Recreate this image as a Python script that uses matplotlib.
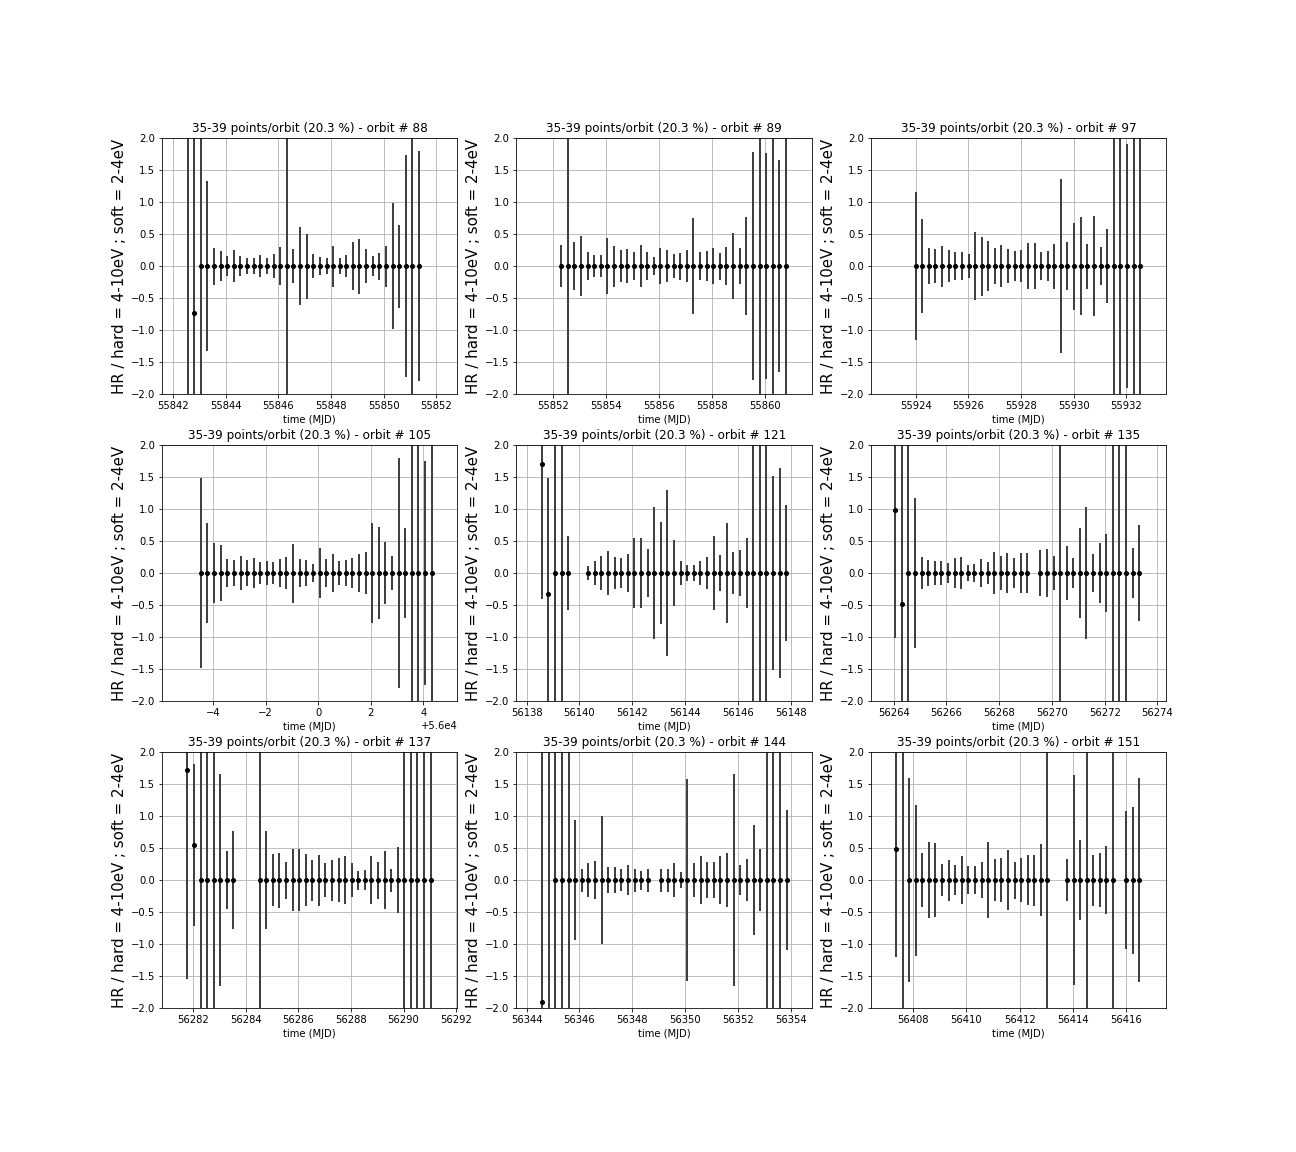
import numpy as np
import matplotlib
matplotlib.use('Agg')
import matplotlib.pyplot as plt


ORBITS = [88, 89, 97, 105, 121, 135, 137, 144, 151]

# time (MJD) of each HR point, per orbit
t_88 = [55842.55, 55842.80, 55843.05, 55843.30, 55843.55, 55843.81, 55844.06, 55844.31, 55844.56,
		55844.81, 55845.06, 55845.31, 55845.56, 55845.82, 55846.07, 55846.32, 55846.57, 55846.82,
		55847.07, 55847.32, 55847.57, 55847.83, 55848.08, 55848.33, 55848.58, 55848.83, 55849.08,
		55849.33, 55849.58, 55849.83, 55850.09, 55850.34, 55850.59, 55850.84, 55851.09, 55851.34]
t_89 = [55852.30, 55852.55, 55852.80, 55853.05, 55853.30, 55853.55, 55853.80, 55854.05, 55854.30,
		55854.55, 55854.80, 55855.05, 55855.30, 55855.55, 55855.80, 55856.05, 55856.30, 55856.55,
		55856.80, 55857.05, 55857.30, 55857.55, 55857.80, 55858.05, 55858.30, 55858.55, 55858.80,
		55859.05, 55859.30, 55859.55, 55859.80, 55860.05, 55860.30, 55860.55, 55860.80]
t_97 = [55924.00, 55924.25, 55924.50, 55924.75, 55925.00, 55925.26, 55925.51, 55925.76, 55926.01,
		55926.26, 55926.51, 55926.76, 55927.01, 55927.26, 55927.51, 55927.77, 55928.02, 55928.27,
		55928.52, 55928.77, 55929.02, 55929.27, 55929.52, 55929.77, 55930.02, 55930.28, 55930.53,
		55930.78, 55931.03, 55931.28, 55931.53, 55931.78, 55932.03, 55932.28, 55932.53]
t_105 = [55995.53, 55995.78, 55996.03, 55996.28, 55996.53, 55996.79, 55997.04, 55997.29, 55997.54,
		 55997.79, 55998.04, 55998.29, 55998.54, 55998.79, 55999.04, 55999.30, 55999.55, 55999.80,
		 56000.05, 56000.30, 56000.55, 56000.80, 56001.05, 56001.30, 56001.55, 56001.81, 56002.06,
		 56002.31, 56002.56, 56002.81, 56003.06, 56003.31, 56003.56, 56003.81, 56004.06, 56004.32]
t_121 = [56138.58, 56138.83, 56139.08, 56139.33, 56139.58, 56140.33, 56140.58, 56140.83, 56141.08,
		 56141.33, 56141.58, 56141.83, 56142.08, 56142.33, 56142.58, 56142.83, 56143.08, 56143.33,
		 56143.58, 56143.83, 56144.08, 56144.33, 56144.58, 56144.83, 56145.08, 56145.33, 56145.58,
		 56145.83, 56146.08, 56146.33, 56146.58, 56146.83, 56147.08, 56147.33, 56147.58, 56147.83]
t_135 = [56264.06, 56264.31, 56264.56, 56264.81, 56265.06, 56265.31, 56265.56, 56265.81, 56266.06,
		 56266.31, 56266.56, 56266.81, 56267.06, 56267.31, 56267.56, 56267.81, 56268.06, 56268.31,
		 56268.56, 56268.81, 56269.06, 56269.56, 56269.81, 56270.06, 56270.31, 56270.56, 56270.81,
		 56271.06, 56271.31, 56271.56, 56271.81, 56272.06, 56272.31, 56272.56, 56272.81, 56273.06,
		 56273.31]
t_137 = [56281.78, 56282.03, 56282.28, 56282.53, 56282.78, 56283.03, 56283.28, 56283.53, 56284.53,
		 56284.78, 56285.03, 56285.28, 56285.53, 56285.78, 56286.03, 56286.28, 56286.53, 56286.78,
		 56287.03, 56287.28, 56287.53, 56287.78, 56288.03, 56288.28, 56288.53, 56288.78, 56289.03,
		 56289.28, 56289.53, 56289.78, 56290.03, 56290.28, 56290.53, 56290.78, 56291.03]
t_144 = [56344.59, 56344.84, 56345.09, 56345.34, 56345.59, 56345.84, 56346.09, 56346.34, 56346.59,
		 56346.84, 56347.09, 56347.34, 56347.59, 56347.84, 56348.09, 56348.34, 56348.59, 56349.09,
		 56349.34, 56349.59, 56349.84, 56350.09, 56350.34, 56350.59, 56350.84, 56351.09, 56351.34,
		 56351.59, 56351.84, 56352.09, 56352.34, 56352.59, 56352.84, 56353.09, 56353.34, 56353.59,
		 56353.84]
t_151 = [56407.36, 56407.61, 56407.85, 56408.10, 56408.35, 56408.60, 56408.84, 56409.09, 56409.34,
		 56409.58, 56409.83, 56410.08, 56410.32, 56410.57, 56410.82, 56411.07, 56411.31, 56411.56,
		 56411.81, 56412.05, 56412.30, 56412.55, 56412.79, 56413.04, 56413.78, 56414.03, 56414.28,
		 56414.52, 56414.77, 56415.02, 56415.26, 56415.51, 56416.01, 56416.25, 56416.50]

# hardness ratio values (only the first few points of an orbit differ from 0)
hr_88 = [2.6, -0.74] + [0.0] * 34
hr_89 = [0.0] * 35
hr_97 = [0.0] * 35
hr_105 = [0.0] * 36
hr_121 = [1.70, -0.33] + [0.0] * 34
hr_135 = [0.98, -0.48] + [0.0] * 35
hr_137 = [1.72, 0.55] + [0.0] * 33
hr_144 = [-1.91, 2.6] + [0.0] * 35
hr_151 = [0.49, 2.6] + [0.0] * 33

# HR errors
err_88 = [5.0, 3.2, 2.8, 1.33, 0.29, 0.24, 0.16, 0.25, 0.16, 0.12, 0.12, 0.17, 0.12, 0.19, 0.30, 2.9,
		  0.27, 0.61, 0.51, 0.19, 0.14, 0.12, 0.32, 0.12, 0.17, 0.38, 0.43, 0.27, 0.16, 0.21, 0.32,
		  0.99, 0.65, 1.74, 2.7, 1.80]
err_89 = [0.33, 2.9, 0.38, 0.47, 0.22, 0.17, 0.17, 0.44, 0.32, 0.25, 0.27, 0.22, 0.33, 0.22, 0.14,
		  0.28, 0.25, 0.19, 0.21, 0.25, 0.75, 0.22, 0.24, 0.28, 0.21, 0.30, 0.52, 0.28, 0.77, 1.78,
		  2.8, 1.77, 3.0, 1.66, 2.9]
err_97 = [1.16, 0.74, 0.28, 0.27, 0.32, 0.25, 0.22, 0.22, 0.19, 0.53, 0.46, 0.39, 0.28, 0.33, 0.27,
		  0.24, 0.25, 0.36, 0.36, 0.22, 0.24, 0.35, 1.36, 0.38, 0.68, 0.77, 0.35, 0.78, 0.30, 0.58,
		  2.9, 2.7, 1.91, 3.1, 2.8]
err_105 = [1.49, 0.78, 0.47, 0.44, 0.22, 0.20, 0.27, 0.20, 0.23, 0.17, 0.19, 0.17, 0.22, 0.25, 0.46,
		   0.22, 0.20, 0.14, 0.39, 0.22, 0.30, 0.19, 0.20, 0.23, 0.30, 0.33, 0.78, 0.72, 0.48, 0.27,
		   1.80, 0.70, 2.9, 3.0, 1.75, 2.8]
err_121 = [2.11, 1.81, 2.9, 3.0, 0.58, 0.11, 0.19, 0.27, 0.34, 0.25, 0.23, 0.30, 0.55, 0.55, 0.37,
		   1.03, 0.80, 1.30, 0.52, 0.19, 0.12, 0.12, 0.19, 0.25, 0.58, 0.28, 0.78, 0.33, 0.36, 0.55,
		   2.8, 3.1, 2.9, 1.52, 1.64, 1.06]
err_135 = [1.99, 3.0, 2.8, 1.17, 0.25, 0.20, 0.19, 0.19, 0.16, 0.23, 0.25, 0.12, 0.14, 0.22, 0.17,
		   0.33, 0.27, 0.31, 0.23, 0.31, 0.31, 0.36, 0.37, 0.27, 2.9, 0.42, 0.23, 0.70, 1.03, 0.30,
		   0.47, 0.61, 2.8, 3.0, 2.9, 0.39, 0.75]
err_137 = [3.27, 1.26, 2.9, 3.0, 2.8, 1.66, 0.45, 0.76, 2.9, 0.77, 0.41, 0.43, 0.29, 0.48, 0.48,
		   0.41, 0.32, 0.40, 0.26, 0.32, 0.35, 0.38, 0.26, 0.15, 0.16, 0.37, 0.29, 0.45, 0.18, 0.52,
		   2.9, 3.0, 2.8, 3.1, 2.9]
err_144 = [4.5, 5.0, 2.9, 3.0, 2.8, 0.94, 0.18, 0.26, 0.30, 1.00, 0.20, 0.20, 0.17, 0.23, 0.18,
		   0.15, 0.18, 0.18, 0.18, 0.26, 0.12, 1.58, 0.26, 0.37, 0.28, 0.28, 0.37, 0.42, 1.66, 0.23,
		   0.33, 0.86, 0.48, 2.9, 3.0, 2.8, 1.09]
err_151 = [1.70, 5.0, 1.60, 1.18, 0.42, 0.60, 0.58, 0.25, 0.32, 0.23, 0.37, 0.22, 0.22, 0.28, 0.59,
		   0.33, 0.34, 0.47, 0.29, 0.34, 0.39, 0.40, 0.56, 2.9, 0.33, 1.64, 0.62, 3.0, 0.40, 0.42,
		   0.53, 2.8, 1.08, 1.15, 1.59]

# time window shown for each orbit
xlims = [(55841.58, 55852.80), (55850.61, 55861.78), (55922.30, 55933.53),
		 (55994.05, 56005.30), (56137.62, 56148.80), (56263.14, 56274.34),
		 (56280.81, 56292.05), (56343.62, 56354.80), (56406.42, 56417.51)]


def plotOrbit(ax, orbit, t, hr, err, xlim):
	ax.errorbar(t, hr, yerr=err, fmt='k.', ms=8, ecolor='0.25', elinewidth=2)
	ax.set_ylim(-2, 2)
	ax.set_xlim(xlim)
	ax.grid(True)
	ax.set_title("35-39 points/orbit (20.3 %) - orbit # " + str(orbit), fontsize=12)
	ax.set_xlabel("time (MJD)")
	ax.set_ylabel("HR / hard = 4-10eV ; soft = 2-4eV", fontsize=15)


def main():
	times = [t_88, t_89, t_97, t_105, t_121, t_135, t_137, t_144, t_151]
	hrs = [hr_88, hr_89, hr_97, hr_105, hr_121, hr_135, hr_137, hr_144, hr_151]
	errs = [err_88, err_89, err_97, err_105, err_121, err_135, err_137, err_144, err_151]

	fig = plt.figure(figsize=(18, 16), dpi=72)
	for i in range(9):
		ax = fig.add_subplot(3, 3, i + 1)
		plotOrbit(ax, ORBITS[i], times[i], hrs[i], errs[i], xlims[i])

	fig.subplots_adjust(left=0.125, right=0.9, bottom=0.125, top=0.88, wspace=0.2, hspace=0.2)
	fig.savefig('out.png', dpi=72)


if __name__ == '__main__':
	main()
